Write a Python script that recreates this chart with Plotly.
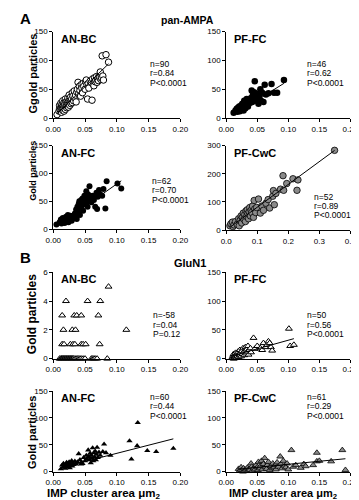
import plotly.graph_objects as go

# ---------------- data ----------------
# A  pan-AMPA
ampa_anbc_x = [0.006,0.009,0.010,0.010,0.011,0.012,0.012,0.013,0.013,0.014,0.014,0.015,0.015,0.015,0.016,0.016,0.017,0.017,0.018,0.018,0.019,0.019,0.020,0.020,0.021,0.021,0.022,0.022,0.023,0.023,0.024,0.024,0.025,0.025,0.026,0.026,0.027,0.027,0.028,0.029,0.030,0.030,0.031,0.032,0.033,0.034,0.035,0.036,0.037,0.038,0.039,0.040,0.041,0.042,0.043,0.044,0.045,0.046,0.047,0.048,0.050,0.051,0.052,0.053,0.054,0.055,0.056,0.058,0.060,0.061,0.062,0.063,0.064,0.065,0.066,0.067,0.068,0.069,0.070,0.071,0.072,0.073,0.074,0.075,0.076,0.077,0.078,0.079,0.083,0.087]
ampa_anbc_y = [6,12,17,22,14,19,26,10,21,16,24,13,19,30,22,17,27,12,20,24,15,33,22,28,18,25,30,21,26,35,19,29,24,40,31,22,28,36,25,33,27,44,38,30,47,35,40,28,45,50,62,42,55,48,38,58,52,44,60,55,50,63,66,58,33,60,52,64,62,31,68,58,56,70,63,66,72,62,68,65,73,70,80,67,70,108,73,66,110,97]

ampa_pffc_x = [0.012,0.015,0.017,0.018,0.019,0.020,0.021,0.022,0.023,0.024,0.025,0.026,0.027,0.028,0.029,0.030,0.031,0.032,0.033,0.034,0.035,0.036,0.038,0.040,0.041,0.042,0.043,0.044,0.045,0.046,0.047,0.048,0.050,0.052,0.053,0.055,0.056,0.058,0.060,0.062,0.064,0.068,0.073,0.077,0.082,0.093]
ampa_pffc_y = [9,13,16,11,18,14,20,12,17,22,15,25,19,13,30,22,17,27,33,24,20,30,26,35,48,28,40,32,45,64,38,30,42,25,36,50,30,44,28,58,41,43,59,44,44,66]

ampa_anfc_x = [0.005,0.010,0.012,0.013,0.014,0.015,0.016,0.017,0.018,0.019,0.020,0.021,0.022,0.023,0.024,0.025,0.026,0.027,0.028,0.029,0.030,0.032,0.034,0.035,0.036,0.037,0.038,0.039,0.040,0.041,0.042,0.043,0.044,0.045,0.046,0.047,0.048,0.049,0.050,0.051,0.052,0.053,0.054,0.055,0.056,0.057,0.058,0.060,0.062,0.064,0.066,0.068,0.069,0.070,0.072,0.074,0.077,0.079,0.082,0.084,0.101,0.107]
ampa_anfc_y = [8,12,17,10,15,20,13,18,11,16,22,14,19,25,12,21,17,24,20,15,23,19,28,22,35,18,40,30,45,50,25,38,52,42,55,33,48,60,45,52,68,58,40,62,50,77,55,48,60,52,40,65,36,58,70,62,60,72,37,86,82,73]

ampa_pfcwc_x = [0.012,0.015,0.020,0.022,0.025,0.030,0.035,0.040,0.042,0.045,0.048,0.050,0.052,0.055,0.057,0.060,0.062,0.064,0.066,0.068,0.070,0.072,0.074,0.076,0.078,0.080,0.082,0.085,0.088,0.090,0.092,0.095,0.098,0.104,0.110,0.115,0.120,0.128,0.135,0.140,0.150,0.152,0.155,0.160,0.175,0.183,0.185,0.195,0.215,0.228,0.231,0.349]
ampa_pfcwc_y = [15,22,28,12,18,30,20,40,15,35,50,25,45,60,38,55,30,68,48,72,58,40,65,80,50,70,62,85,45,105,75,62,80,110,60,85,70,95,108,78,120,140,90,130,145,193,141,165,182,141,178,283]

# B  GluN1
glun1_anbc_x = [0.087,
                0.020,0.054,0.074,
                0.014,0.033,0.037,0.044,0.071,
                0.016,0.030,0.035,0.115,
                0.014,0.017,0.027,0.031,0.034,0.044,0.047,0.051,0.073,
                0.010,0.012,0.013,0.014,0.015,0.016,0.017,0.018,0.019,0.020,0.021,0.022,0.023,0.024,0.025,0.026,0.027,0.028,0.029,0.030,0.031,0.032,0.034,0.036,0.038,0.040,0.042,0.044,0.047,0.050,0.060,0.062,0.064,0.066,0.069,0.085]
glun1_anbc_y = [5,
                4,4,4,
                3,3,3,3,3,
                2,2,2,2,
                1,1,1,1,1,1,1,1,1,
                0,0,0,0,0,0,0,0,0,0,0,0,0,0,0,0,0,0,0,0,0,0,0,0,0,0,0,0,0,0,0,0,0,0,0,0]

glun1_pffc_x = [0.010,0.011,0.012,0.012,0.013,0.014,0.014,0.015,0.015,0.016,0.017,0.018,0.018,0.019,0.020,0.021,0.022,0.022,0.023,0.024,0.025,0.026,0.027,0.028,0.029,0.030,0.031,0.032,0.033,0.034,0.035,0.036,0.037,0.039,0.040,0.044,0.046,0.050,0.055,0.058,0.060,0.063,0.066,0.068,0.070,0.072,0.074,0.101,0.103,0.109]
glun1_pffc_y = [2,5,0,8,3,6,1,10,4,7,2,9,5,12,3,8,15,6,10,4,13,8,18,11,6,14,20,9,16,12,22,7,15,18,11,36,17,22,18,15,27,20,24,30,27,20,14,52,22,24]

glun1_anfc_x = [0.012,0.014,0.015,0.016,0.018,0.019,0.020,0.021,0.022,0.023,0.024,0.025,0.026,0.027,0.028,0.029,0.030,0.031,0.032,0.034,0.036,0.038,0.040,0.042,0.044,0.046,0.048,0.050,0.052,0.053,0.055,0.056,0.057,0.058,0.059,0.060,0.061,0.062,0.063,0.064,0.065,0.066,0.067,0.068,0.069,0.070,0.072,0.074,0.078,0.080,0.083,0.090,0.120,0.123,0.132,0.133,0.148,0.162,0.189,0.044]
glun1_anfc_y = [5,12,8,15,10,6,13,17,9,14,11,18,7,15,12,20,10,16,13,19,14,18,33,22,17,15,26,20,30,24,40,28,22,34,16,30,25,44,20,35,27,38,22,32,45,26,36,30,37,51,35,30,57,23,48,91,39,37,43,14]

glun1_pfcwc_x = [0.020,0.022,0.024,0.025,0.027,0.028,0.030,0.032,0.034,0.035,0.037,0.038,0.040,0.041,0.042,0.044,0.046,0.048,0.050,0.051,0.052,0.054,0.055,0.057,0.058,0.060,0.062,0.063,0.065,0.066,0.068,0.070,0.072,0.074,0.075,0.077,0.079,0.080,0.082,0.084,0.087,0.088,0.090,0.092,0.094,0.096,0.098,0.100,0.105,0.108,0.112,0.120,0.125,0.128,0.140,0.146,0.146,0.150,0.169,0.187,0.192]
glun1_pfcwc_y = [5,2,8,3,0,6,2,4,7,1,5,3,15,9,2,6,4,12,8,3,18,6,10,20,4,14,25,8,5,12,18,3,10,6,15,8,12,4,17,9,28,14,6,20,11,8,15,4,40,9,12,7,14,10,12,35,19,20,19,40,3]

# regression lines: slope, intercept (None = no line drawn)
fit_slope = [1070, 675, 800, 810, None, 300, 303, 112]
fit_intercept = [1, -2.5, 1, 0, None, 2, 3.7, 2.4]

panel_names = ["AN-BC", "PF-FC", "AN-FC", "PF-CwC", "AN-BC", "PF-FC", "AN-FC", "PF-CwC"]
stat_n = ["n=90", "n=46", "n=62", "n=52", "n=-58", "n=50", "n=60", "n=61"]
stat_r = ["r=0.84", "r=0.62", "r=0.70", "r=0.89", "r=0.04", "r=0.56", "r=0.44", "r=0.29"]
stat_p = ["P<0.0001", "P<0.0001", "P<0.0001", "P<0.0001", "P=0.12", "P<0.0001", "P<0.0001", "P<0.0001"]

x_ticks_small = [0.0, 0.05, 0.10, 0.15, 0.20]
x_ticklabels_small = ["0.00", "0.05", "0.10", "0.15", "0.20"]
x_ticks_large = [0.0, 0.1, 0.2, 0.3, 0.4]
x_ticklabels_large = ["0.0", "0.1", "0.2", "0.3", "0.4"]
y_ticks_150 = [0, 50, 100, 150]
y_ticks_300 = [0, 100, 200, 300]
y_ticks_6 = [0, 2, 4, 6]

# ---------------- layout helpers ----------------
W, H = 359, 500
FONT = "Arial, Liberation Sans, sans-serif"


def px(x):
    return x / W


def py(y):
    return 1 - y / H


xs = [ampa_anbc_x, ampa_pffc_x, ampa_anfc_x, ampa_pfcwc_x,
      glun1_anbc_x, glun1_pffc_x, glun1_anfc_x, glun1_pfcwc_x]
ys = [ampa_anbc_y, ampa_pffc_y, ampa_anfc_y, ampa_pfcwc_y,
      glun1_anbc_y, glun1_pffc_y, glun1_anfc_y, glun1_pfcwc_y]

GRAY = "#8a8a8a"
markers = [
    dict(symbol="circle", size=6.5, color="white", line=dict(color="black", width=1)),
    dict(symbol="circle", size=6.5, color="black", line=dict(width=0)),
    dict(symbol="circle", size=6, color="black", line=dict(width=0)),
    dict(symbol="circle", size=6.5, color=GRAY, line=dict(color="black", width=0.8)),
    dict(symbol="triangle-up", size=6, color="white", line=dict(color="black", width=1)),
    dict(symbol="triangle-up", size=6, color="white", line=dict(color="black", width=1)),
    dict(symbol="triangle-up", size=5.5, color="black", line=dict(width=0)),
    dict(symbol="triangle-up", size=6, color=GRAY, line=dict(color="black", width=0.8)),
]

# pixel boxes: (left, right, top, bottom) of each plot area
boxes = [
    (39, 172, 20, 108), (220, 350, 20, 108),
    (39, 172, 136, 221), (220, 350, 136, 222),
    (39, 172, 265, 353), (220, 350, 265, 353),
    (39, 172, 386, 468), (220, 350, 386, 468),
]

x_cfg = [(x_ticks_small, x_ticklabels_small, 0.2)] * 3 + [(x_ticks_large, x_ticklabels_large, 0.4)] + \
        [(x_ticks_small, x_ticklabels_small, 0.2)] * 4
y_cfg = [(y_ticks_150, 150)] * 3 + [(y_ticks_300, 300)] + [(y_ticks_6, 6)] + [(y_ticks_150, 150)] * 3

axis_common = dict(showline=True, linecolor="black", linewidth=1, ticks="outside", ticklen=3,
                   tickwidth=1, tickcolor="black", showgrid=False, zeroline=False,
                   tickfont=dict(family=FONT, size=8, color="black"), fixedrange=True)

fig = go.Figure()
layout = dict(width=W, height=H, margin=dict(l=0, r=0, t=0, b=0), showlegend=False,
              plot_bgcolor="white", paper_bgcolor="white")
annotations = []

stat_pos = [(138, 53), (302, 53), (140, 172), (310, 188), (141, 309), (303, 309), (138, 392), (303, 392)]

for i in range(8):
    n = i + 1
    xa = "x" if n == 1 else f"x{n}"
    ya = "y" if n == 1 else f"y{n}"
    l, r, t, b = boxes[i]
    xt, xl, xmax = x_cfg[i]
    yt, ymax = y_cfg[i]
    layout["xaxis" if n == 1 else f"xaxis{n}"] = dict(
        axis_common, domain=[px(l), px(r)], anchor=ya, range=[0, xmax],
        tickvals=xt, ticktext=xl)
    layout["yaxis" if n == 1 else f"yaxis{n}"] = dict(
        axis_common, domain=[py(b), py(t)], anchor=xa, range=[0, ymax],
        tickvals=yt, ticktext=[str(v) for v in yt])

    fig.add_trace(go.Scatter(x=xs[i], y=ys[i], mode="markers", marker=markers[i],
                             xaxis=xa, yaxis=ya, cliponaxis=False, hoverinfo="skip"))
    if fit_slope[i] is not None:
        x0, x1 = min(xs[i]), max(xs[i])
        fig.add_trace(go.Scatter(x=[x0, x1],
                                 y=[fit_slope[i] * x0 + fit_intercept[i], fit_slope[i] * x1 + fit_intercept[i]],
                                 mode="lines", line=dict(color="black", width=1),
                                 xaxis=xa, yaxis=ya, hoverinfo="skip"))

    # panel label
    annotations.append(dict(x=px(l + 6), y=py(t - 1), xref="paper", yref="paper", text=f"<b>{panel_names[i]}</b>",
                            showarrow=False, xanchor="left", yanchor="top",
                            font=dict(family=FONT, size=11, color="black")))
    # stats
    sx, sy = stat_pos[i]
    for k, txt in enumerate([stat_n[i], stat_r[i], stat_p[i]]):
        annotations.append(dict(x=px(sx), y=py(sy + 9.5 * k), xref="paper", yref="paper", text=txt,
                                showarrow=False, xanchor="left", yanchor="middle",
                                font=dict(family=FONT, size=8.5, color="black")))

# y-axis titles
ytitles = [("Ggold particles", 63, 11), ("Gold particles", 162, 9), ("Gold particles", 308, 12), ("Gold particles", 428, 11)]
for txt, yc, fs in ytitles:
    annotations.append(dict(x=px(17.5), y=py(yc), xref="paper", yref="paper", text=f"<b>{txt}</b>",
                            textangle=-90, showarrow=False, xanchor="center", yanchor="middle",
                            font=dict(family=FONT, size=fs, color="black")))

# x-axis titles
for xc, fs in [(92, 11.5), (279, 11)]:
    annotations.append(dict(x=px(xc), y=py(499.5), xref="paper", yref="paper",
                            text="<b>IMP cluster area μm<sub>2</sub></b>",
                            showarrow=False, xanchor="center", yanchor="bottom",
                            font=dict(family=FONT, size=fs, color="black")))

# section letters and headings
for txt, xx, yy, fs, anchor in [("A", 2, 7, 15, "left"), ("B", 2, 250, 15, "left"),
                                 ("pan-AMPA", 179, 8, 10.5, "center"), ("GluN1", 182, 256, 11, "center")]:
    annotations.append(dict(x=px(xx), y=py(yy), xref="paper", yref="paper", text=f"<b>{txt}</b>",
                            showarrow=False, xanchor=anchor, yanchor="middle",
                            font=dict(family=FONT, size=fs, color="black")))

layout["annotations"] = annotations
fig.update_layout(**layout)
fig.write_html("out.html")
